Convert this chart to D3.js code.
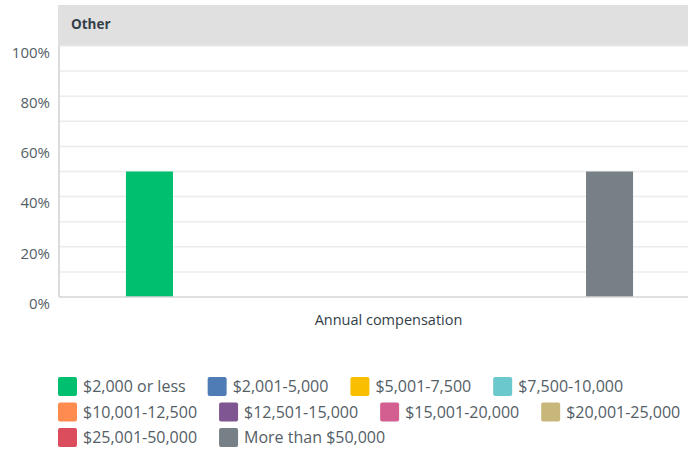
<!DOCTYPE html>
<html>
<head>
<meta charset="utf-8">
<script src="https://cdn.jsdelivr.net/npm/d3@7"></script>
<style>
  html, body { margin: 0; padding: 0; background: #fff; }
  svg { display: block; font-family: "Open Sans", sans-serif; }
</style>
</head>
<body>
<div id="chart"></div>
<script>
const panelTitle = "Other";
const groupLabel = "Annual compensation";
const categories = [
  "$2,000 or less", "$2,001-5,000", "$5,001-7,500", "$7,500-10,000",
  "$10,001-12,500", "$12,501-15,000", "$15,001-20,000", "$20,001-25,000",
  "$25,001-50,000", "More than $50,000"
];
const shares = [50, 0, 0, 0, 0, 0, 0, 0, 0, 50];
const colors = [
  "#00bf6f", "#507cb6", "#f9be00", "#6bc8cd", "#ff8b4f",
  "#7f5691", "#d25f90", "#c8b77a", "#db4d5c", "#768086"
];
const yTicks = [0, 20, 40, 60, 80, 100];

const width = 688, height = 453;
const margin = { top: 46, right: -12, bottom: 156, left: 59 };
const innerW = width - margin.left - margin.right;
const innerH = height - margin.top - margin.bottom;

const svg = d3.select("#chart").append("svg")
  .attr("width", width).attr("height", height);

// header band
svg.append("rect")
  .attr("x", 58).attr("y", 5)
  .attr("width", width - 58).attr("height", margin.top - 5)
  .attr("fill", "#e0e0e0");
svg.append("text")
  .attr("x", 71).attr("y", 24.5)
  .attr("dy", "0.35em")
  .attr("fill", "#333e48")
  .attr("font-size", "13.5px")
  .attr("font-weight", 700)
  .text(panelTitle);

const g = svg.append("g").attr("transform", `translate(${margin.left},${margin.top})`);

const y = d3.scaleLinear().domain([0, 100]).range([innerH, 0]);
const x0 = d3.scaleBand().domain([groupLabel]).range([0, innerW]).paddingOuter(0.132);
const x1 = d3.scaleBand().domain(categories).range([0, x0.bandwidth()]).paddingInner(0.08);

// gridlines every 10%
g.append("g")
  .selectAll("line")
  .data(d3.range(10, 101, 10))
  .join("line")
  .attr("x1", 0).attr("x2", innerW)
  .attr("y1", (d) => y(d)).attr("y2", (d) => y(d))
  .attr("stroke", "#ececec")
  .attr("stroke-width", 1.5);

// y axis labels
g.append("g")
  .call(d3.axisLeft(y).tickValues(yTicks).tickFormat((d) => d + "%").tickSize(0).tickPadding(9))
  .call((a) => a.select(".domain").remove())
  .call((a) => a.selectAll(".tick text")
    .attr("fill", "#545e66")
    .attr("font-size", "15px")
    .attr("font-family", "Open Sans, sans-serif")
    .attr("dy", "0.75em"));

// bars
g.append("g")
  .attr("transform", `translate(${x0(groupLabel)},0)`)
  .selectAll("rect")
  .data(categories.map((c, i) => ({ c, v: shares[i], color: colors[i] })))
  .join("rect")
  .attr("x", (d) => x1(d.c))
  .attr("width", x1.bandwidth())
  .attr("y", (d) => y(d.v))
  .attr("height", (d) => innerH - y(d.v))
  .attr("fill", (d) => d.color);

// axis lines
g.append("line")
  .attr("x1", 0).attr("x2", 0).attr("y1", 0).attr("y2", innerH)
  .attr("stroke", "#d0d0d0").attr("stroke-width", 1.5);
g.append("line")
  .attr("x1", 0).attr("x2", innerW).attr("y1", innerH).attr("y2", innerH)
  .attr("stroke", "#d6d6d6").attr("stroke-width", 1.5);

// x group label
g.append("g")
  .attr("transform", `translate(0,${innerH})`)
  .call(d3.axisBottom(x0).tickSize(0).tickPadding(18))
  .call((a) => a.select(".domain").remove())
  .call((a) => a.selectAll(".tick text")
    .attr("fill", "#333e48")
    .attr("font-size", "14.5px")
    .attr("font-family", "Open Sans, sans-serif")
    .attr("dx", 9));

// legend, flowing left to right
const legend = svg.append("g").attr("transform", "translate(58,377)");
const rowH = 25.5, sw = 19, maxX = width - 58;
let lx = 0, ly = 0;
categories.forEach((c, i) => {
  const item = legend.append("g");
  item.append("rect")
    .attr("width", sw).attr("height", sw).attr("rx", 2)
    .attr("fill", colors[i]);
  const t = item.append("text")
    .attr("x", sw + 6).attr("y", sw / 2)
    .attr("dy", "0.35em")
    .attr("fill", "#545e66")
    .attr("font-size", "16px")
    .text(c);
  const w = sw + 6 + t.node().getComputedTextLength();
  if (lx > 0 && lx + w > maxX) { lx = 0; ly += rowH; }
  item.attr("transform", `translate(${lx},${ly})`);
  lx += w + 22;
});
</script>
</body>
</html>
